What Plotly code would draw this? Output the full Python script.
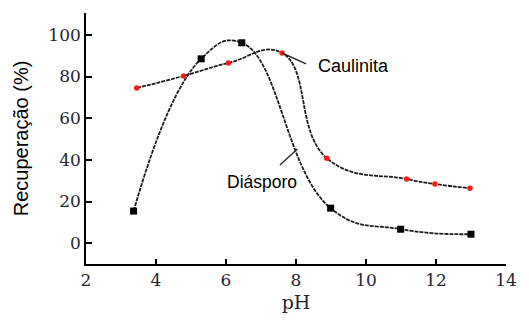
import plotly.graph_objects as go

# pH values and recovery (%) for each mineral
ph_caulinita = [3.45, 4.79, 6.07, 7.6, 8.88, 11.16, 11.97, 12.97]
rec_caulinita = [74.5, 80.3, 86.5, 91.3, 40.8, 30.8, 28.4, 26.4]

ph_diasporo = [3.36, 5.29, 6.45, 8.99, 10.99, 13.0]
rec_diasporo = [15.4, 88.5, 96.2, 16.8, 6.7, 4.3]

x_ticks = [2, 4, 6, 8, 10, 12, 14]
y_ticks = [0, 20, 40, 60, 80, 100]

LINE = dict(color="#1e1e1e", width=1.8, shape="spline", smoothing=1.3, dash="4px,1px")
SANS = "Liberation Sans, Arial, sans-serif"
SERIF = "DejaVu Serif, serif"

fig = go.Figure()

fig.add_trace(go.Scatter(
    x=ph_diasporo, y=rec_diasporo, mode="lines+markers",
    line=LINE,
    marker=dict(symbol="square", size=7, color="black"),
    name="Diásporo", showlegend=False,
))
fig.add_trace(go.Scatter(
    x=ph_caulinita, y=rec_caulinita, mode="lines+markers",
    line=LINE,
    marker=dict(symbol="circle", size=5.5, color="#ff1a1a"),
    name="Caulinita", showlegend=False,
))

# leader lines from the curves to their labels
fig.add_shape(type="line", x0=7.6, y0=91.3, x1=8.29, y1=86.1,
              line=dict(color="#2a2a2a", width=1.4))
fig.add_shape(type="line", x0=8.04, y0=45.2, x1=7.54, y1=37.5,
              line=dict(color="#2a2a2a", width=1.4))

fig.add_annotation(x=8.57, y=85.1, text="Caulinita", showarrow=False,
                   xanchor="left", yanchor="middle",
                   font=dict(family=SANS, size=18, color="black"))
fig.add_annotation(x=7.04, y=29.3, text="Diásporo", showarrow=False,
                   xanchor="center", yanchor="middle",
                   font=dict(family=SANS, size=17.5, color="black"))

fig.update_layout(
    width=529, height=322,
    margin=dict(l=86, r=12, t=13, b=58),
    plot_bgcolor="white", paper_bgcolor="white",
    xaxis=dict(
        range=[2, 14], tickvals=x_ticks, ticks="inside", ticklen=5,
        tickwidth=1.5, tickcolor="black",
        showline=True, linecolor="black", linewidth=1.6,
        showgrid=False, zeroline=False,
        tickfont=dict(family=SERIF, size=17, color="#262630"),
        title=dict(text="pH", font=dict(family=SERIF, size=19, color="#262630"),
                   standoff=6),
    ),
    yaxis=dict(
        range=[-10, 110.5], tickvals=y_ticks, ticks="inside", ticklen=6,
        tickwidth=1.5, tickcolor="black",
        showline=True, linecolor="black", linewidth=1.6,
        showgrid=False, zeroline=False,
        tickfont=dict(family=SERIF, size=17, color="#262630"),
        title=dict(text="Recuperação (%)", font=dict(family=SANS, size=20, color="black"),
                   standoff=14),
    ),
)

fig.write_html("out.html")
